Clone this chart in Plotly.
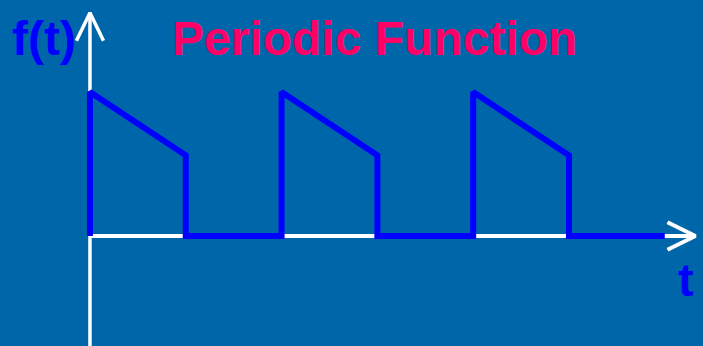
import plotly.graph_objects as go

# Data
t_vals = [0, 0, 1, 1, 2, 2, 3, 3, 4, 4, 5, 5, 6]
f_vals = [0, 1, 0.56, 0, 0, 1, 0.56, 0, 0, 1, 0.56, 0, 0]
title_text = "Periodic Function"
y_label = "f(t)"
x_label = "t"

# Axis extents (data units)
x_axis_end = 6.32
y_axis_top = 1.55
y_axis_bottom = -0.8
x_range = [-0.939, 6.399]
y_range = [-0.764, 1.639]

BG = "#0066AA"
WAVE = "#0000FF"
PINK = "#FF0066"
FONT = "Liberation Sans, Arial"

fig = go.Figure()

# axes (white)
fig.add_trace(go.Scatter(x=[0, x_axis_end], y=[0, 0], mode="lines",
                         line=dict(color="white", width=4), hoverinfo="skip"))
fig.add_trace(go.Scatter(x=[0, 0], y=[y_axis_bottom, y_axis_top], mode="lines",
                         line=dict(color="white", width=3.5), hoverinfo="skip"))
# arrowheads
ax_len_t = 0.292
ax_hw_f = 0.096
fig.add_trace(go.Scatter(x=[x_axis_end - ax_len_t, x_axis_end, x_axis_end - ax_len_t],
                         y=[ax_hw_f, 0, -ax_hw_f], mode="lines",
                         line=dict(color="white", width=4), hoverinfo="skip"))
ay_len_f = 0.194
ay_hw_t = 0.141
fig.add_trace(go.Scatter(x=[-ay_hw_t, 0, ay_hw_t],
                         y=[y_axis_top - ay_len_f, y_axis_top, y_axis_top - ay_len_f], mode="lines",
                         line=dict(color="white", width=3.5), hoverinfo="skip"))

# waveform
fig.add_trace(go.Scatter(x=t_vals, y=f_vals, mode="lines",
                         line=dict(color=WAVE, width=6), hoverinfo="skip"))

fig.add_annotation(x=0.533, y=1 - 38 / 346, xref="paper", yref="paper", text="<b>" + title_text + "</b>",
                   xanchor="center", yanchor="middle",
                   showarrow=False, font=dict(family=FONT, size=48, color=PINK))
fig.add_annotation(x=-0.48, y=1.375, xref="x", yref="y", text="<b>" + y_label + "</b>",
                   xanchor="center", yanchor="middle",
                   showarrow=False, font=dict(family=FONT, size=48, color=WAVE))
fig.add_annotation(x=6.22, y=-0.30, xref="x", yref="y", text="<b>" + x_label + "</b>",
                   xanchor="center", yanchor="middle",
                   showarrow=False, font=dict(family=FONT, size=47, color=WAVE))

fig.update_layout(
    width=703, height=346,
    margin=dict(l=0, r=0, t=0, b=0),
    paper_bgcolor=BG, plot_bgcolor=BG,
    showlegend=False,
    xaxis=dict(range=x_range, visible=False, fixedrange=True),
    yaxis=dict(range=y_range, visible=False, fixedrange=True),
)

fig.write_html("out.html", config={"displayModeBar": False},
               post_script="document.body.style.margin='0';document.body.style.overflow='hidden';document.body.style.background='" + BG + "';")
